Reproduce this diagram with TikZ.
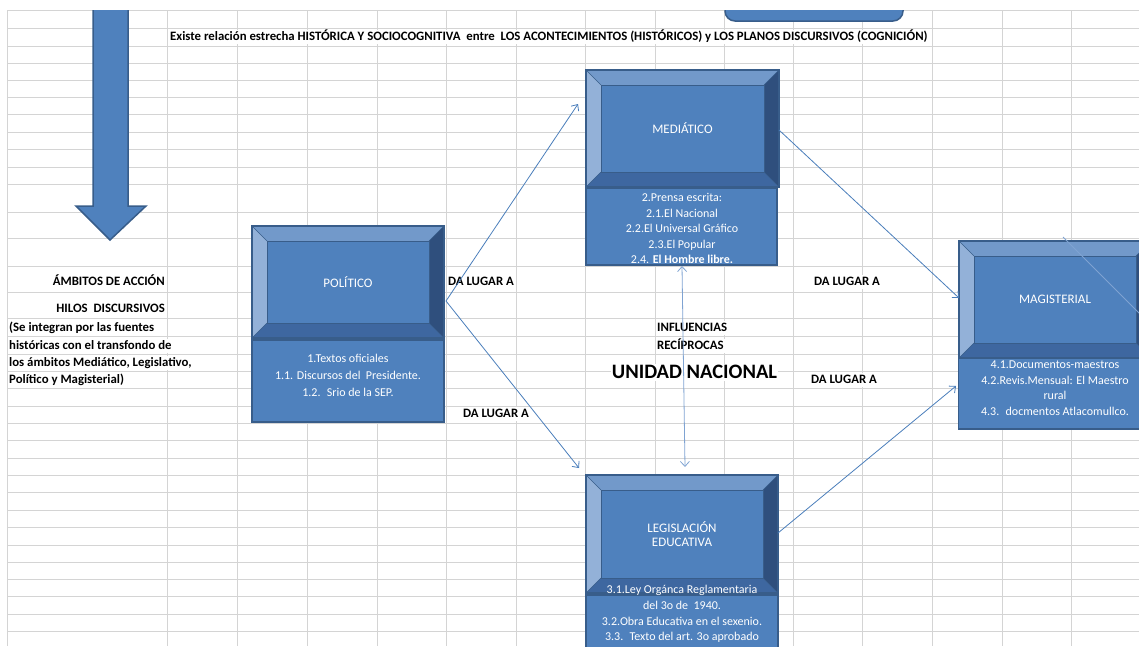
\documentclass[tikz,border=0pt]{standalone}
\usepackage{fontspec}
\setmainfont{Carlito}
\usetikzlibrary{arrows.meta,calc}
\definecolor{face}{HTML}{4F81BD}
\definecolor{edge}{HTML}{385D8A}
\definecolor{btop}{HTML}{7299CA}
\definecolor{bleft}{HTML}{93B1D8}
\definecolor{bright}{HTML}{2F4F7D}
\definecolor{bbot}{HTML}{3E67A0}
\definecolor{gridc}{HTML}{D4D4D4}
\definecolor{conc}{HTML}{4A7EBB}
\definecolor{conl}{HTML}{7FA3D2}
\newcommand\mybevel[6]{%
  \fill[face] (#2,#3) rectangle (#4,#5);
  \fill[btop] (#2,#3) -- (#4,#3) -- (#4-15,#3+15) -- (#2+15,#3+15) -- cycle;
  \fill[bleft] (#2,#3) -- (#2+15,#3+15) -- (#2+15,#5-15) -- (#2,#5) -- cycle;
  \fill[bright] (#4,#3) -- (#4,#5) -- (#4-15,#5-15) -- (#4-15,#3+15) -- cycle;
  \fill[bbot] (#2,#5) -- (#2+15,#5-15) -- (#4-15,#5-15) -- (#4,#5) -- cycle;
  \draw[edge, line width=0.8] (#2+15,#3+15) rectangle (#4-15,#5-15);
  \draw[edge, line width=0.6] (#2,#3) -- (#2+15,#3+15) (#4,#3) -- (#4-15,#3+15)
     (#2,#5) -- (#2+15,#5-15) (#4,#5) -- (#4-15,#5-15);
  \node[bevelframe, minimum width={(#4-#2)*1pt}, minimum height={(#5-#3)*1pt}]
     (#1) at ({(#2+#4)/2},{(#3+#5)/2}) {};
  \node[boxtitle] (#1t) at ({(#2+#4)/2},{(#3+#5)/2}) {#6};
}
\begin{document}
\begin{tikzpicture}[x=1pt,y=-1pt,
  gridline/.style={draw=gridc, line width=0.9},
  bevelframe/.style={draw=edge, line width=1.6, inner sep=0pt},
  boxtitle/.style={text=white, align=center, font=\fontsize{13}{14.5}\selectfont, inner sep=0pt},
  textbox/.style={fill=face, draw=edge, line width=1.6, inner sep=0pt},
  boxtext/.style={text=white, align=center, inner sep=0pt},
  cell/.style={fill=white, inner sep=1pt, text height=9pt, text depth=2.5pt,
     font=\fontsize{12.8}{14}\selectfont\bfseries, text=black},
  conn/.style={draw=conc, line width=0.8, -{Straight Barb[length=5pt,width=9pt]}},
  conn2/.style={draw=conl, line width=0.8, {Straight Barb[length=5pt,width=9pt]}-{Straight Barb[length=5pt,width=9pt]}},
  connplain/.style={draw=conl, line width=0.8}]
\useasboundingbox (0,0) rectangle (1139,646);
\clip (0,0) rectangle (1139,646);

% spreadsheet grid
\foreach \x in {7,167,237,307,377,446,516,585,655,724,793,862,932,1002,1071}
  \draw[gridline] (\x,10) -- (\x,646);
\foreach \y in {10,28,46,63,80,97,114,132,149,167,184,212,238,266,292,318,336,354,371,388,406,423,440,458,475,492,510,527,545,562,579,596,614,631}
  \draw[gridline] (7,\y) -- (1139,\y);

% cell texts
\node[cell, anchor=west] (title) at (169,37) {Existe relación estrecha HISTÓRICA Y SOCIOCOGNITIVA~ entre~ LOS ACONTECIMIENTOS (HISTÓRICOS) y LOS PLANOS DISCURSIVOS (COGNICIÓN)};
\node[cell, anchor=east] (ambitos) at (166,282) {ÁMBITOS DE ACCIÓN};
\node[cell, anchor=east] (hilos) at (166,309) {HILOS~ DISCURSIVOS};
\node[cell, anchor=west, fill=none] (l1) at (8,328) {(Se integran por las fuentes};
\node[cell, anchor=west] (l2) at (8,346) {históricas con el transfondo de};
\node[cell, anchor=west] (l3) at (8,363) {los ámbitos Mediático, Legislativo,};
\node[cell, anchor=west] (l4) at (8,380) {Político y Magisterial)};
\node[cell, anchor=west] (da1) at (447,282) {DA LUGAR A};
\node[cell, anchor=west] (da2) at (462,414) {DA LUGAR A};
\node[cell, anchor=west] (da3) at (813,282) {DA LUGAR A};
\node[cell, anchor=west] (da4) at (810,380) {DA LUGAR A};
\node[cell, anchor=west] (infl) at (656,328) {INFLUENCIAS};
\node[cell, anchor=west] (reci) at (656,346) {RECÍPROCAS};
\node[cell, font=\fontsize{20.5}{22}\selectfont\bfseries, text height=14pt, text depth=1pt] (unidad) at (694.5,372) {UNIDAD NACIONAL};

% top shapes
\begin{scope}
  \clip (0,10.5) rectangle (1139,646);
  \draw[fill=face, draw=edge, line width=1.5] (93,0) -- (128,0) -- (128,206) -- (146,206) -- (110,240) -- (76,206) -- (93,206) -- cycle;
  \draw[fill=face, draw=edge, line width=1.5, rounded corners=10] (725,-20) rectangle (903,21);
\end{scope}
\node[inner sep=0pt] (arrowtip) at (110,240) {};

% text boxes
\node[textbox, minimum width=192, minimum height=82] (poltb) at (348,381) {};
\node[textbox, minimum width=191, minimum height=77] (medtb) at (681.5,226.5) {};
\node[textbox, minimum width=193, minimum height=71] (magtb) at (1055,393.5) {};
\node[textbox, minimum width=192, minimum height=80] (legtb) at (682,635) {};

% bevel boxes
\mybevel{pol}{252}{226}{444}{338}{POLÍTICO}
\mybevel{med}{586}{70}{779}{187}{MEDIÁTICO}
\mybevel{mag}{959}{241}{1151}{358}{MAGISTERIAL}
\mybevel{leg}{586}{475}{778}{593}{LEGISLACIÓN\\[-1pt]EDUCATIVA}

% box texts
\node[boxtext, font=\fontsize{12}{17}\selectfont] (poltx) at (348,375.5) {1.Textos oficiales\\1.1. Discursos del~ Presidente.\\1.2.~ Srio de la SEP.};
\node[boxtext, font=\fontsize{12}{15.5}\selectfont] (medtx) at (682,228.5) {2.Prensa escrita:\\2.1.El Nacional\\2.2.El Universal Gráfico\\2.3.El Popular\\2.4. \textbf{El Hombre libre.}};
\node[boxtext, font=\fontsize{12}{15.6}\selectfont] (magtx) at (1055,388) {4.1.Documentos-maestros\\4.2.Revis.Mensual: El Maestro\\rural\\4.3.~ docmentos Atlacomullco.};
\node[boxtext, font=\fontsize{12}{15.6}\selectfont] (legtx) at (682,614) {3.1.Ley Orgánca Reglamentaria\\del 3o de~ 1940.\\3.2.Obra Educativa en el sexenio.\\3.3.~ Texto del art. 3o aprobado};

% connectors
\coordinate (polout) at (446,301);
\coordinate (medin) at (578,104);
\coordinate (legin) at (579,468);
\coordinate (medout) at (779,130);
\coordinate (magin1) at (959,298);
\coordinate (legout) at (778,533);
\coordinate (magin2) at (956,386);
\coordinate (medbot) at (682,266);
\coordinate (legtop) at (685,467);
\coordinate (offA) at (1063,237);
\coordinate (offB) at (1140,314);
\draw[conn] (polout) -- (medin);
\draw[conn] (polout) -- (legin);
\draw[conn] (medout) -- (magin1);
\draw[conn] (legout) -- (magin2);
\draw[conn2] (medbot) -- (legtop);
\draw[connplain] (offA) -- (offB);
\end{tikzpicture}
\end{document}
